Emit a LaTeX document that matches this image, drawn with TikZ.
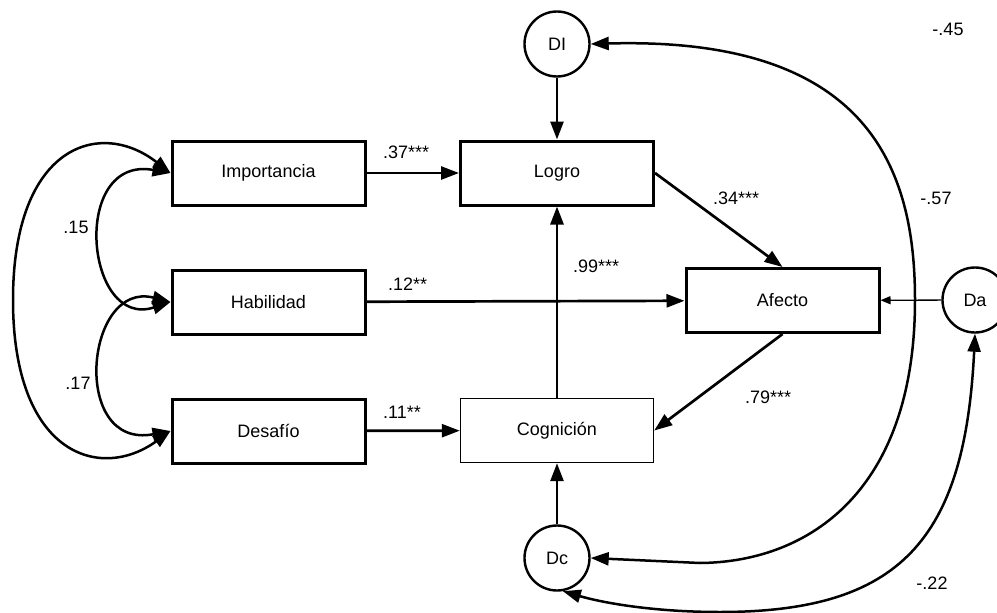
\documentclass[tikz,border=0pt]{standalone}
\usepackage{fontspec}
\setmainfont{Liberation Sans}
\usetikzlibrary{arrows.meta}
\begin{document}
\begin{tikzpicture}[x=1pt,y=-1pt,
  txt/.style={font=\fontsize{18}{20}\selectfont},
  box/.style={txt, draw, line width=3pt, minimum width=193pt, minimum height=64pt, inner sep=0pt},
  thinbox/.style={box, line width=1.4pt},
  err/.style={txt, circle, draw, line width=2.4pt, minimum size=65pt, inner sep=0pt},
  tip/.tip={Triangle[length=18pt,width=13pt]},
  pth/.style={line width=2.7pt, -tip},
  thinpth/.style={line width=1.3pt, -{Triangle[length=10pt,width=8pt]}},
  cov/.style={line width=2.5pt, tip-tip},
  lbl/.style={txt, inner sep=0pt, anchor=west},
  clbl/.style={txt, inner sep=0pt}
]
\useasboundingbox (0,0) rectangle (997,613);

% observed variables
\node[box] (imp) at (268.5,173) {Importancia};
\node[box] (hab) at (268.5,302) {Habilidad};
\node[box] (des) at (268.5,431) {Desafío};
\node[box] (log) at (557,173) {Logro};
\node[box] (afe) at (782.5,300.5) {Afecto};
\node[thinbox] (cog) at (557,430.5) {Cognición};

% disturbances
\node[err] (dl) at (557,44) {DI};
\node[err] (da) at (975,300) {Da};
\node[err] (dc) at (557,558) {Dc};

% paths
\draw[pth] (dl) -- (log);
\draw[pth] (imp) -- (log);
\draw[pth] (log.east) -- (afe.north);
\draw[pth] (hab) -- (afe);
\draw[pth] (cog) -- (log);
\draw[pth] (afe.south) -- (cog.east);
\draw[pth] (des) -- (cog);
\draw[pth] (dc) -- (cog);
\draw[thinpth] (da) -- (afe);

% covariances left
\draw[cov] (imp.west) .. controls (100,118) and (13,145) .. (13,300)
  .. controls (13,455) and (100,482) .. (des.west);
\draw[cov] (imp.west) .. controls (70,155) and (85,330) .. (hab.west);
\draw[cov] (hab.west) .. controls (85,280) and (70,450) .. (des.west);

% covariances right
\coordinate (r1) at (915,300);
\coordinate (r2) at (700,563);
\draw[cov] (dl.east) .. controls (870,36) and (915,170) .. (r1)
  .. controls (915,490) and (810,562) .. (r2) -- (dc.east);
\coordinate (r3) at (720,612);
\draw[cov] (da.south) .. controls (965,540) and (900,612) .. (r3)
  .. controls (650,612) and (600,602) .. (dc.-80);

% labels
\node[lbl] (l37) at (383,152) {.37***};
\node[lbl] (l12) at (388,284) {.12**};
\node[lbl] (l11) at (383,412) {.11**};
\node[lbl] (l34) at (713,198) {.34***};
\node[lbl] (l99) at (573,266) {.99***};
\node[lbl] (l79) at (745,397) {.79***};
\node[clbl] (l15) at (76,227) {.15};
\node[clbl] (l17) at (78,383) {.17};
\node[clbl] (l45) at (948,29) {-.45};
\node[clbl] (l57) at (936,198) {-.57};
\node[clbl] (l22) at (932,583) {-.22};
\end{tikzpicture}
\end{document}
